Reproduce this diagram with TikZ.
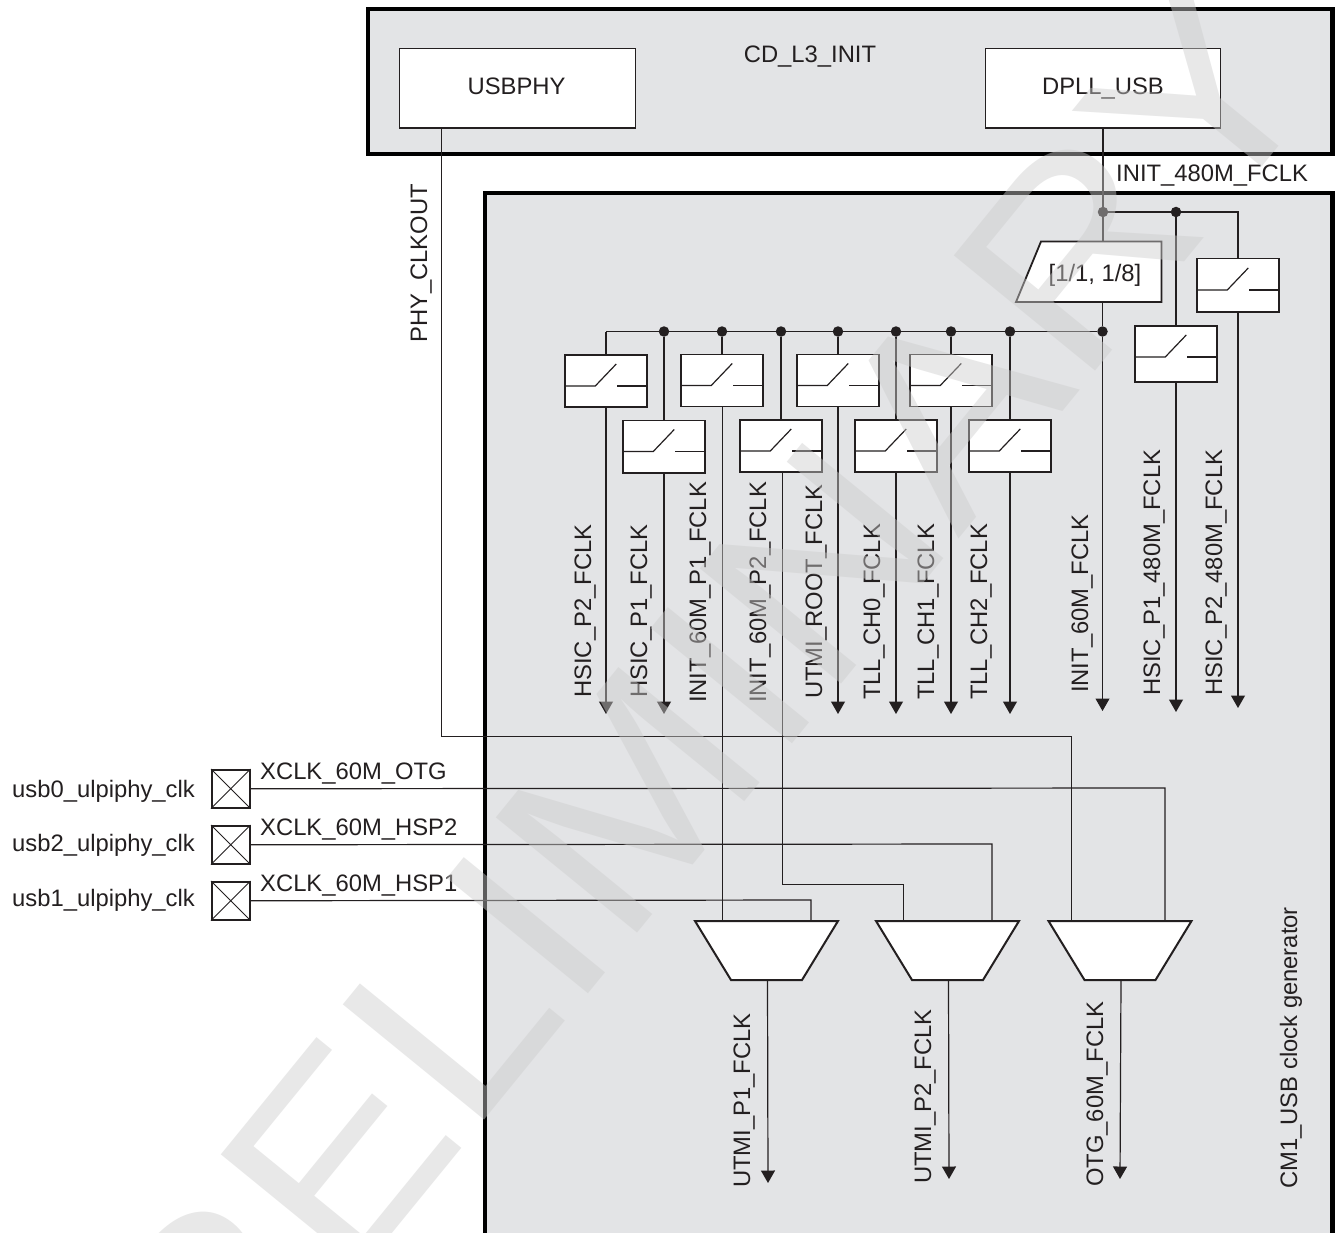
\documentclass[tikz,border=0pt]{standalone}
\usepackage{fontspec}
\setmainfont{Liberation Sans}
\usetikzlibrary{arrows.meta}
\definecolor{panelc}{HTML}{E3E4E6}
\definecolor{ink}{HTML}{231F20}
\tikzset{
  x=1pt,y=-1pt,
  lbl/.style={inner sep=0pt,text=ink,font=\fontsize{23.8}{26}\selectfont},
  vlbl/.style={lbl,rotate=90,anchor=base west},
  hlbl/.style={lbl,anchor=base west},
  clbl/.style={lbl,anchor=base},
  dombox/.style={draw=black,line width=4.5pt,fill=panelc},
  block/.style={draw=ink,line width=1.2pt,fill=white,inner sep=0pt},
  wire/.style={draw=ink,line width=1.2pt},
  thinwire/.style={draw=ink,line width=1pt},
  arrowwire/.style={wire,-{Triangle[width=14pt,length=12.5pt]}},
  jdot/.style={circle,fill=ink,inner sep=0pt,minimum size=10.5pt},
  swbox/.style={block,line width=1.5pt,minimum width=82pt},
  padbox/.style={block,line width=1.5pt,minimum width=38pt,minimum height=38pt},
  muxbox/.style={draw=ink,line width=2pt,fill=white,line join=miter},
}
% name, centre x, top y, height
\newcommand\switchbox[4]{%
  \node[swbox,anchor=north,minimum height=#4pt] (#1) at (#2,#3) {};
  \draw[wire] (#1.north west) ++(0,32) -- ++(31,0) -- ++(21,-22);
  \draw[wire] (#1.north east) ++(0,32) -- ++(-31,0);
}
% name, top-left x, top y (trapezoid)
\newcommand\muxshape[3]{%
  \draw[muxbox] (#2,#3) -- ++(143,0) -- ++(-36,59) -- ++(-71,0) -- cycle;
  \coordinate (#1o) at (#2+71.5+1,#3+59);
}
\newcommand\padcross[3]{%
  \node[padbox,anchor=north west] (#1) at (#2,#3) {};
  \draw[ink,line width=1pt] (#1.north west) -- (#1.south east) (#1.north east) -- (#1.south west);
}
\begin{document}
\begin{tikzpicture}
\useasboundingbox (0,0) rectangle (1335,1233);
\clip (0,0) rectangle (1335,1233);
\fill[white] (0,0) rectangle (1335,1233);
% domains
\draw[dombox] (368,9) rectangle (1332.5,154);
\draw[dombox] (485,193) rectangle (1332.5,1235);
\node[clbl] (cdl) at (810,63) {CD\_L3\_INIT};
\node[block,minimum width=236pt,minimum height=79.5pt,anchor=north west] (usbphy) at (399,48) {};
\node[clbl] (usbl) at (516.5,94.5) {USBPHY};
\node[block,minimum width=235pt,minimum height=79.5pt,anchor=north west] (dpll) at (985,48) {};
\node[clbl] (dpl) at (1103,95) {DPLL\_USB};
\node[hlbl] (l480) at (1116,182) {INIT\_480M\_FCLK};
% divider
\coordinate (divtop) at (1103,241.5);
\coordinate (divbot) at (1102.5,302);
\draw[muxbox,line width=1.8pt] (1041,241.5) -- (1161.5,241.5) -- (1161.5,302) -- (1016,302) -- cycle;
\node[clbl] (divl) at (1095,281.5) {[1/1, 1/8]};
% junctions
\node[jdot] (ja) at (1103,212) {};
\node[jdot] (jb) at (1176,212) {};
\coordinate (jc) at (1238,212);
\coordinate (bus0) at (606,331.5);
\node[jdot] (d1) at (664,331.5) {};
\node[jdot] (d2) at (722,331.5) {};
\node[jdot] (d3) at (781,331.5) {};
\node[jdot] (d4) at (838,331.5) {};
\node[jdot] (d5) at (896,331.5) {};
\node[jdot] (d6) at (951,331.5) {};
\node[jdot] (d7) at (1010,331.5) {};
\node[jdot] (d8) at (1102.5,331.5) {};
% switches
\switchbox{s1}{606}{354}{52}
\switchbox{s2}{664}{419.5}{52.5}
\switchbox{s3}{722}{353.5}{52}
\switchbox{s4}{781}{419}{52}
\switchbox{s5}{838}{353.5}{52}
\switchbox{s6}{896}{419}{52}
\switchbox{s7}{951}{353.5}{52}
\switchbox{s8}{1010}{419}{52}
\switchbox{s9}{1176}{325}{56}
\switchbox{s10}{1238}{258}{53}
% wires
\draw[wire] (dpll.south -| ja) -- (ja);
\draw[wire] (ja) -- (divtop);
\draw[wire] (ja) -- (jb) -- (jc) -- (s10.north);
\draw[wire] (jb) -- (s9.north);
\draw[wire] (bus0) -- (d8);
\draw[wire] (bus0) -- (s1.north);
\foreach \d/\s in {d1/s2,d2/s3,d3/s4,d4/s5,d5/s6,d6/s7,d7/s8}{\draw[wire] (\d) -- (\s.north);}
\draw[wire] (divbot) -- (d8);
\foreach \s/\y in {s1/714,s2/714,s5/714,s6/714,s7/714,s8/714,s9/712,s10/708}{
  \draw[arrowwire] (\s.south) -- (\s.south |- 0,\y);
}
\draw[arrowwire] (d8) -- (1102.5,711);
% muxes
\muxshape{m1}{695}{921}
\muxshape{m2}{876}{921}
\muxshape{m3}{1048.5}{921}
\coordinate (m1a) at (722.5,921);
\coordinate (m1b) at (811,921);
\coordinate (m2a) at (903,921);
\coordinate (m2b) at (992,921);
\coordinate (m3a) at (1071.5,921);
\coordinate (m3b) at (1165,921);
\draw[arrowwire] (m1o) -- (768,1183);
\draw[arrowwire] (m2o) -- (949,1179);
\draw[arrowwire] (m3o) -- (1120,1179);
\draw[thinwire] (s3.south -| m1a) -- (m1a);
\draw[thinwire] (782.5,471) -- (782.5,884.5) -- (903,884.5) -- (m2a);
\draw[thinwire] (441.5,127.5) -- (441.5,736.5) -- (1071.5,736.5) -- (m3a);
% pads
\padcross{p0}{211}{769}
\padcross{p2}{211}{825}
\padcross{p1}{211}{881}
\draw[wire] (p0.east) -- (1165,788) -- (m3b);
\draw[wire] (p2.east) -- (992,844) -- (m2b);
\draw[wire] (p1.east) -- (811,900) -- (m1b);
% labels
\node[hlbl] (lx0) at (260,779) {XCLK\_60M\_OTG};
\node[hlbl] (lx2) at (260,835) {XCLK\_60M\_HSP2};
\node[hlbl] (lx1) at (260,891) {XCLK\_60M\_HSP1};
\node[hlbl] (lu0) at (12,797) {usb0\_ulpiphy\_clk};
\node[hlbl] (lu2) at (12,851) {usb2\_ulpiphy\_clk};
\node[hlbl] (lu1) at (12,906) {usb1\_ulpiphy\_clk};
\node[vlbl] (v0) at (427,343) {PHY\_CLKOUT};
\node[vlbl] (v1) at (591,698) {HSIC\_P2\_FCLK};
\node[vlbl] (v2) at (647,698) {HSIC\_P1\_FCLK};
\node[vlbl] (v3) at (706,703) {INIT\_60M\_P1\_FCLK};
\node[vlbl] (v4) at (766,703) {INIT\_60M\_P2\_FCLK};
\node[vlbl] (v5) at (822,699) {UTMI\_ROOT\_FCLK};
\node[vlbl] (v6) at (880,700) {TLL\_CH0\_FCLK};
\node[vlbl] (v7) at (934,700) {TLL\_CH1\_FCLK};
\node[vlbl] (v8) at (987,700) {TLL\_CH2\_FCLK};
\node[vlbl] (v9) at (1088,693) {INIT\_60M\_FCLK};
\node[vlbl] (v10) at (1160,696) {HSIC\_P1\_480M\_FCLK};
\node[vlbl] (v11) at (1222,696) {HSIC\_P2\_480M\_FCLK};
\node[vlbl] (v12) at (750,1188) {UTMI\_P1\_FCLK};
\node[vlbl] (v13) at (931,1184) {UTMI\_P2\_FCLK};
\node[vlbl] (v14) at (1103,1187) {OTG\_60M\_FCLK};
\node[vlbl] (v15) at (1297,1189) {CM1\_USB clock generator};
% watermark
\node[inner sep=0pt,anchor=base west,rotate=50.8,text=black!20,opacity=.45,font=\fontsize{265}{265}\selectfont] (wm) at (93,1601) {\scalebox{1.094}[1]{PRELIMINARY}};
\end{tikzpicture}
\end{document}
